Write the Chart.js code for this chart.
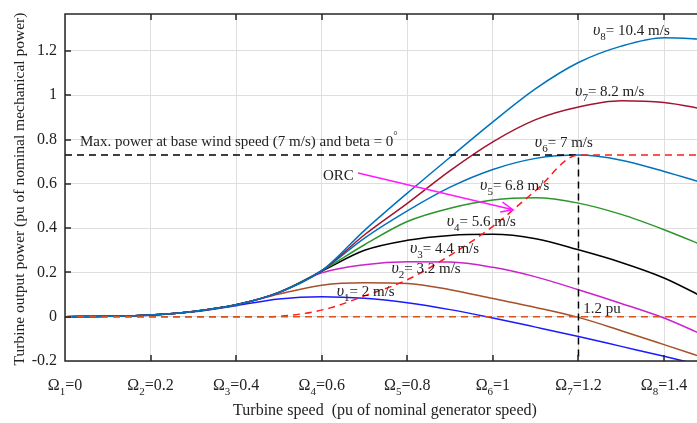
<!DOCTYPE html>
<html>
<head>
<meta charset="utf-8">
<script src="https://cdn.jsdelivr.net/npm/chart.js@4.4.1/dist/chart.umd.min.js"></script>
<style>
  html, body { margin: 0; padding: 0; background: #fff; }
</style>
</head>
<body>
<canvas id="graph1" width="697" height="423"></canvas>
<script>
// turbine speed (pu) where the curves were read
var speeds = [0, 0.1, 0.2, 0.3, 0.4, 0.5, 0.6, 0.7, 0.8, 0.9, 1.0, 1.1, 1.2, 1.3, 1.4, 1.5];

// turbine output power (pu) for each wind speed
var powerV1 = [0, 0.002, 0.007, 0.022, 0.05, 0.08, 0.09, 0.083, 0.063, 0.032, -0.006, -0.047, -0.089, -0.134, -0.179, -0.225];
var powerV2 = [0, 0.002, 0.008, 0.024, 0.054, 0.102, 0.142, 0.153, 0.15, 0.122, 0.082, 0.042, -0.003, -0.063, -0.126, -0.19];
var powerV3 = [0, 0.002, 0.008, 0.024, 0.054, 0.108, 0.198, 0.235, 0.248, 0.247, 0.223, 0.18, 0.122, 0.06, -0.006, -0.09];
var powerV4 = [0, 0.002, 0.008, 0.024, 0.054, 0.11, 0.205, 0.3, 0.345, 0.367, 0.372, 0.352, 0.302, 0.245, 0.175, 0.08];
var powerV5 = [0, 0.002, 0.008, 0.024, 0.054, 0.11, 0.208, 0.325, 0.43, 0.49, 0.527, 0.537, 0.513, 0.462, 0.393, 0.315];
var powerV6 = [0, 0.002, 0.008, 0.024, 0.054, 0.11, 0.208, 0.355, 0.478, 0.585, 0.665, 0.715, 0.73, 0.707, 0.656, 0.6];
var powerV7 = [0, 0.002, 0.008, 0.024, 0.054, 0.11, 0.208, 0.37, 0.512, 0.66, 0.79, 0.89, 0.947, 0.975, 0.967, 0.935];
var powerV8 = [0, 0.002, 0.008, 0.024, 0.054, 0.11, 0.208, 0.39, 0.558, 0.72, 0.88, 1.03, 1.148, 1.222, 1.26, 1.252];

// optimal regime characteristic (ORC)
var orcSpeed = [0, 0.47, 0.55, 0.62, 0.7, 0.8, 0.9, 1.0, 1.1, 1.2, 1.5];
var orcPower = [0, 0, 0.012, 0.04, 0.094, 0.167, 0.277, 0.408, 0.57, 0.73, 0.73];

// max power at base wind speed, and the 1.2 pu speed
var baseSpeed = [0, 1.2, 1.2];
var basePower = [0.73, 0.73, -0.2];
var zeroSpeed = [0, 1.5];
var zeroPower = [0, 0];

// axes
var xTicks = [0, 0.2, 0.4, 0.6, 0.8, 1, 1.2, 1.4];
var xTickLabels = ['0', '0.2', '0.4', '0.6', '0.8', '1', '1.2', '1.4'];
var yTicks = [-0.2, 0, 0.2, 0.4, 0.6, 0.8, 1, 1.2];
var yTickLabels = ['-0.2', '0', '0.2', '0.4', '0.6', '0.8', '1', '1.2'];

// curve labels: subscript, text, anchor (speed, power)
var curveLabels = [
    { sub: '8', text: '= 10.4 m/s', x: 1.234, y: 1.273 },
    { sub: '7', text: '= 8.2 m/s', x: 1.192, y: 0.998 },
    { sub: '6', text: '= 7 m/s', x: 1.098, y: 0.766 },
    { sub: '5', text: '= 6.8 m/s', x: 0.970, y: 0.570 },
    { sub: '4', text: '= 5.6 m/s', x: 0.892, y: 0.411 },
    { sub: '3', text: '= 4.4 m/s', x: 0.806, y: 0.288 },
    { sub: '2', text: '= 3.2 m/s', x: 0.763, y: 0.197 },
    { sub: '1', text: '= 2 m/s', x: 0.635, y: 0.095 }
];
var arrowFrom = [0.685, 0.649];
var arrowTo = [1.047, 0.483];

var serif = '"Liberation Serif", "Times New Roman", serif';

function pts(xs, ys) {
    return xs.map((x, i) => ({ x: x, y: ys[i] }));
}

function curve(data, color) {
    return {
        data: pts(speeds, data),
        borderColor: color,
        borderWidth: 1.5,
        pointRadius: 0,
        fill: false,
        cubicInterpolationMode: 'monotone'
    };
}

// draw a run of text pieces [text, font, dy]
function drawParts(ctx, parts, x, y, align) {
    var w = 0;
    parts.forEach(p => { ctx.font = p[1]; w += ctx.measureText(p[0]).width; });
    var cx = align === 'center' ? x - w / 2 : x;
    parts.forEach(p => {
        ctx.font = p[1];
        ctx.fillText(p[0], cx, y + (p[2] || 0));
        cx += ctx.measureText(p[0]).width;
    });
}

var decorations = {
    id: 'decorations',
    afterDatasetsDraw(chart) {
        var ctx = chart.ctx, a = chart.chartArea;
        var xs = chart.scales.x, ys = chart.scales.y;
        ctx.save();

        // frame and inward ticks
        ctx.strokeStyle = '#262626';
        ctx.lineWidth = 1.5;
        ctx.beginPath();
        ctx.moveTo(a.right + 2, a.top);
        ctx.lineTo(a.left, a.top);
        ctx.lineTo(a.left, a.bottom);
        ctx.lineTo(a.right + 2, a.bottom);
        xTicks.forEach(v => {
            var px = Math.round(xs.getPixelForValue(v));
            ctx.moveTo(px, a.bottom); ctx.lineTo(px, a.bottom - 6);
            ctx.moveTo(px, a.top); ctx.lineTo(px, a.top + 6);
        });
        yTicks.forEach(v => {
            var py = Math.round(ys.getPixelForValue(v));
            ctx.moveTo(a.left, py); ctx.lineTo(a.left + 6, py);
        });
        ctx.stroke();

        ctx.fillStyle = '#222';
        ctx.textBaseline = 'alphabetic';

        // tick labels
        var f = '16px ' + serif, fs = '11px ' + serif;
        xTicks.forEach((v, i) => {
            var px = xs.getPixelForValue(v);
            drawParts(ctx, [['\u03A9', f], [String(i + 1), fs, 5], ['=' + xTickLabels[i], f]], px, 390, 'center');
        });
        ctx.textAlign = 'right';
        ctx.textBaseline = 'middle';
        ctx.font = '16px ' + serif;
        yTicks.forEach((v, i) => {
            ctx.fillText(yTickLabels[i], a.left - 8, ys.getPixelForValue(v));
        });

        // axis titles
        ctx.textAlign = 'center';
        ctx.fillText('Turbine speed  (pu of nominal generator speed)', 385, 411);
        ctx.save();
        ctx.translate(20, 189);
        ctx.rotate(-Math.PI / 2);
        ctx.font = '15.5px ' + serif;
        ctx.fillText('Turbine output power (pu of nominal mechanical power)', 0, 0);
        ctx.restore();

        // annotations
        ctx.textAlign = 'left';
        ctx.textBaseline = 'alphabetic';
        var fa = '15px ' + serif;
        curveLabels.forEach(l => {
            drawParts(ctx, [['\u03C5', 'italic 16px ' + serif], [l.sub, '11px ' + serif, 5], [l.text, fa]],
                xs.getPixelForValue(l.x), ys.getPixelForValue(l.y), 'left');
        });
        drawParts(ctx, [['Max. power at base wind speed (7 m/s) and beta = 0', fa], ['\u00B0', '11px ' + serif, -7]],
            xs.getPixelForValue(0.035), ys.getPixelForValue(0.772), 'left');
        ctx.font = fa;
        ctx.fillText('ORC', xs.getPixelForValue(0.603), ys.getPixelForValue(0.619));
        ctx.fillText('1.2 pu', xs.getPixelForValue(1.211), ys.getPixelForValue(0.017));

        // ORC arrow
        var x0 = xs.getPixelForValue(arrowFrom[0]), y0 = ys.getPixelForValue(arrowFrom[1]);
        var x1 = xs.getPixelForValue(arrowTo[0]), y1 = ys.getPixelForValue(arrowTo[1]);
        var ang = Math.atan2(y1 - y0, x1 - x0);
        ctx.strokeStyle = '#ff1aff';
        ctx.lineWidth = 1.5;
        ctx.beginPath();
        ctx.moveTo(x0, y0); ctx.lineTo(x1, y1);
        ctx.moveTo(x1 - 13 * Math.cos(ang - 0.4), y1 - 13 * Math.sin(ang - 0.4));
        ctx.lineTo(x1, y1);
        ctx.lineTo(x1 - 13 * Math.cos(ang + 0.4), y1 - 13 * Math.sin(ang + 0.4));
        ctx.stroke();

        ctx.restore();
    }
};

var ctx = document.getElementById('graph1').getContext('2d');

var datasets = [
    { data: pts(zeroSpeed, zeroPower), borderColor: '#d9531a', borderWidth: 1.5, borderDash: [7, 5], pointRadius: 0 },
    { data: pts(orcSpeed, orcPower), borderColor: '#ff1a1a', borderWidth: 1.5, borderDash: [7, 5], pointRadius: 0, cubicInterpolationMode: 'monotone' },
    { data: pts(baseSpeed, basePower), borderColor: '#000', borderWidth: 1.5, borderDash: [7, 5], pointRadius: 0 },
    curve(powerV8, '#0072bd'),
    curve(powerV7, '#a2142f'),
    curve(powerV6, '#0072bd'),
    curve(powerV5, '#2a962a'),
    curve(powerV4, '#000000'),
    curve(powerV3, '#cc22cc'),
    curve(powerV2, '#a5502a'),
    curve(powerV1, '#1a1aff')
];

var config = {
    type: 'line',
    data: { datasets: datasets },
    options: {
        responsive: false,
        animation: false,
        devicePixelRatio: 1,
        layout: { padding: { left: 65, top: 14, right: 0, bottom: 62 } },
        plugins: { legend: { display: false }, tooltip: { enabled: false } },
        scales: {
            x: {
                type: 'linear', min: 0, max: 1.477,
                ticks: { display: false },
                grid: { color: '#dedede', lineWidth: 1, drawTicks: false },
                border: { display: false },
                afterBuildTicks: s => { s.ticks = xTicks.map(v => ({ value: v })); }
            },
            y: {
                type: 'linear', min: -0.2, max: 1.367,
                ticks: { display: false },
                grid: { color: '#dedede', lineWidth: 1, drawTicks: false },
                border: { display: false },
                afterBuildTicks: s => { s.ticks = yTicks.map(v => ({ value: v })); }
            }
        }
    },
    plugins: [decorations]
};

var graph1 = new Chart(ctx, config);
</script>
</body>
</html>
